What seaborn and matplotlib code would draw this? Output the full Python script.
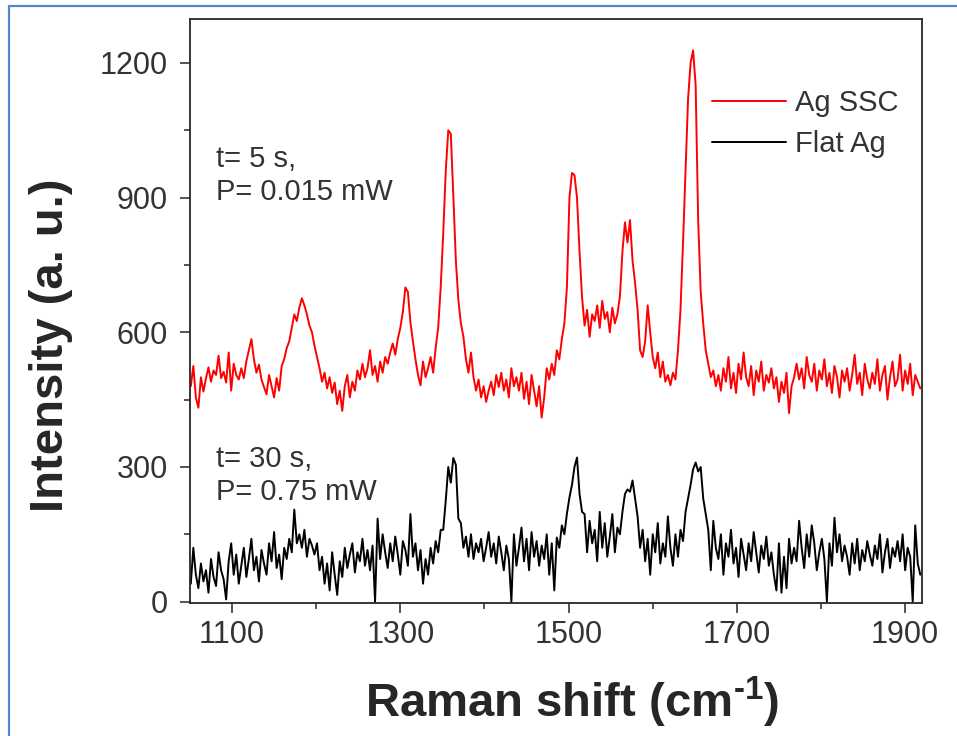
import matplotlib
matplotlib.use("Agg")
import matplotlib.pyplot as plt
from matplotlib.lines import Line2D
from matplotlib.ticker import MultipleLocator
import numpy as np
import pandas as pd
import seaborn as sns

# Raman shift grid (cm-1), one reading every 3 cm-1 from 1051 to 1918
shift_start, shift_step, n_points = 1051, 3, 290
raman_shift = shift_start + shift_step * np.arange(n_points)

# Ag SSC spectrum (red), 10 values per row
ag_ssc = [
    480, 525, 455, 432, 500, 468, 497, 522, 490, 515,
    505, 548, 498, 512, 488, 555, 470, 530, 505, 495,
    520, 498, 535, 560, 585, 540, 510, 528, 495, 478,
    462, 505, 480, 455, 498, 470, 525, 540, 565, 580,
    610, 640, 625, 655, 676, 660, 640, 615, 600, 570,
    545, 520, 490, 510, 475, 500, 465, 488, 440, 470,
    425, 480, 505, 455, 490, 470, 515, 495, 530, 500,
    520, 560, 505, 525, 490, 535, 510, 545, 530, 555,
    575, 550, 585, 610, 645, 700, 690, 622, 580, 540,
    505, 482, 535, 500, 520, 545, 510, 565, 610, 700,
    820, 960, 1050, 1042, 905, 760, 672, 620, 590, 540,
    510, 555, 500, 470, 495, 455, 480, 445, 470, 490,
    460, 505, 478, 510, 470, 495, 455, 520, 480, 500,
    470, 510, 452, 490, 440, 505, 470, 435, 480, 410,
    455, 520, 495, 530, 505, 560, 540, 585, 620, 700,
    900, 955, 950, 900, 780, 678, 615, 650, 590, 640,
    625, 660, 610, 670, 630, 645, 600, 655, 620, 640,
    680, 780, 845, 800, 850, 760, 710, 650, 560, 545,
    580, 660, 600, 545, 520, 555, 500, 535, 490, 505,
    482, 510, 495, 560, 650, 800, 960, 1120, 1200, 1228,
    1150, 850, 690, 620, 560, 530, 500, 515, 480, 505,
    470, 520, 490, 545, 475, 510, 465, 530, 495, 555,
    500, 480, 525, 460, 515, 490, 535, 470, 505, 488,
    520, 475, 500, 445, 490, 465, 510, 420, 480, 500,
    530, 495, 520, 475, 545, 505, 490, 530, 470, 515,
    495, 540, 480, 510, 465, 525, 500, 455, 515, 490,
    520, 470, 505, 550, 485, 510, 460, 530, 495, 475,
    510, 485, 540, 470, 505, 525, 450, 500, 535, 480,
    495, 550, 470, 515, 485, 530, 460, 505, 490, 475,
]

# Flat Ag spectrum (black)
flat_ag = [
    40, 120, 60, 30, 85, 45, 70, 20, 95, 55,
    35, 110, 70, 50, 5, 90, 130, 60, 105, 40,
    80, 120, 55, 95, 140, 70, 100, 45, 115, 85,
    60, 130, 90, 155, 75, 105, 50, 120, 95, 140,
    110, 205, 130, 150, 120, 160, 100, 140, 125, 105,
    130, 70, 100, 40, 85, 25, 110, 60, 15, 90,
    55, 120, 75, 105, 130, 65, 110, 90, 140, 80,
    115, 70, 125, 0, 185, 95, 150, 110, 75, 130,
    90, 145, 105, 60, 135, 115, 80, 195, 100, 130,
    70, 115, 40, 95, 60, 120, 85, 135, 110, 160,
    160, 225, 300, 265, 320, 305, 185, 175, 120, 145,
    100, 150, 95, 130, 110, 140, 90, 120, 155, 100,
    130, 85, 145, 110, 70, 125, 95, 0, 150, 80,
    120, 165, 90, 140, 70, 155, 100, 135, 80, 125,
    95, 150, 60, 130, 25, 143, 120, 170, 150, 196,
    232, 260, 300, 321, 240, 200, 195, 110, 180, 130,
    160, 90, 200, 120, 175, 100, 145, 195, 110, 165,
    150, 200, 240, 250, 245, 270, 230, 190, 120, 160,
    90, 140, 60, 150, 110, 175, 85, 130, 100, 190,
    120, 80, 150, 100, 160, 135, 200, 230, 260, 295,
    310, 290, 300, 230, 195, 160, 70, 180, 120, 95,
    150, 60, 130, 100, 160, 85, 120, 55, 140, 105,
    70, 130, 90, 155, 110, 65, 125, 95, 145, 80,
    110, 60, 25, 130, 20, 100, 30, 140, 85, 120,
    90, 180, 120, 75, 150, 100, 170, 130, 70, 110,
    140, 95, 0, 130, 80, 187, 110, 150, 90, 125,
    100, 60, 130, 85, 140, 70, 115, 90, 135, 105,
    80, 125, 95, 150, 65, 110, 140, 75, 120, 100,
    135, 90, 150, 70, 120, 100, 0, 170, 85, 60,
]

x_ticks = [1100, 1300, 1500, 1700, 1900]
y_ticks = [0, 300, 600, 900, 1200]

df = pd.DataFrame({"shift": raman_shift, "Ag SSC": ag_ssc, "Flat Ag": flat_ag})

sns.set_style("ticks")
plt.rcParams["font.family"] = ["Liberation Sans", "DejaVu Sans"]
plt.rcParams["mathtext.fontset"] = "custom"
plt.rcParams["mathtext.rm"] = "Liberation Sans:bold"
plt.rcParams["mathtext.bf"] = "Liberation Sans:bold"

fig = plt.figure(figsize=(9.57, 7.36), dpi=100)
ax = fig.add_axes([0.1985, 0.1807, 0.7649, 0.7935])

# Spectra
sns.lineplot(data=df, x="shift", y="Ag SSC", ax=ax, color="#ff0000", lw=1.4, label="Ag SSC")
sns.lineplot(data=df, x="shift", y="Flat Ag", ax=ax, color="black", lw=1.4, label="Flat Ag")

ax.set_xlim(1050, 1920)
ax.set_ylim(-3, 1298)
ax.set_xticks(x_ticks)
ax.set_yticks(y_ticks)
ax.xaxis.set_minor_locator(MultipleLocator(100))
ax.yaxis.set_minor_locator(MultipleLocator(150))
ax.tick_params(which="major", direction="out", length=7, width=1.1, labelsize=22,
               labelcolor="#333333", pad=9)
ax.tick_params(axis="x", which="major", pad=5)
ax.tick_params(which="minor", direction="out", length=4, width=1.1)
for sp in ax.spines.values():
    sp.set_linewidth(1.3)

ax.set_xlabel("Raman shift (cm$^{\\text{-1}}$)", fontsize=34, fontweight="bold", labelpad=18)
ax.xaxis.label.set_x(0.522)
ax.set_ylabel("Intensity (a. u.)", fontsize=34, fontweight="bold")
ax.yaxis.set_label_coords(-0.16, 0.442)

# Measurement conditions
ax.text(0.036, 0.785, "t= 5 s,\nP= 0.015 mW", transform=ax.transAxes, fontsize=21,
        color="#333333", va="top", ha="left", linespacing=1.25)
ax.text(0.036, 0.27, "t= 30 s,\nP= 0.75 mW", transform=ax.transAxes, fontsize=21,
        color="#333333", va="top", ha="left", linespacing=1.2)

ax.legend(loc="upper left", bbox_to_anchor=(0.713, 0.88), frameon=False, fontsize=21,
          handlelength=2.55, handletextpad=0.3, borderpad=0, borderaxespad=0,
          labelspacing=0.45, labelcolor="#333333")

# Blue frame lines from the source screenshot
fig.add_artist(Line2D([0.0099, 1.0], [0.9912, 0.9912], color="#5585cc", lw=1.6))
fig.add_artist(Line2D([0.0099, 0.0099], [0.0, 0.9912], color="#5585cc", lw=1.6))

fig.savefig("out.png", dpi=100)
